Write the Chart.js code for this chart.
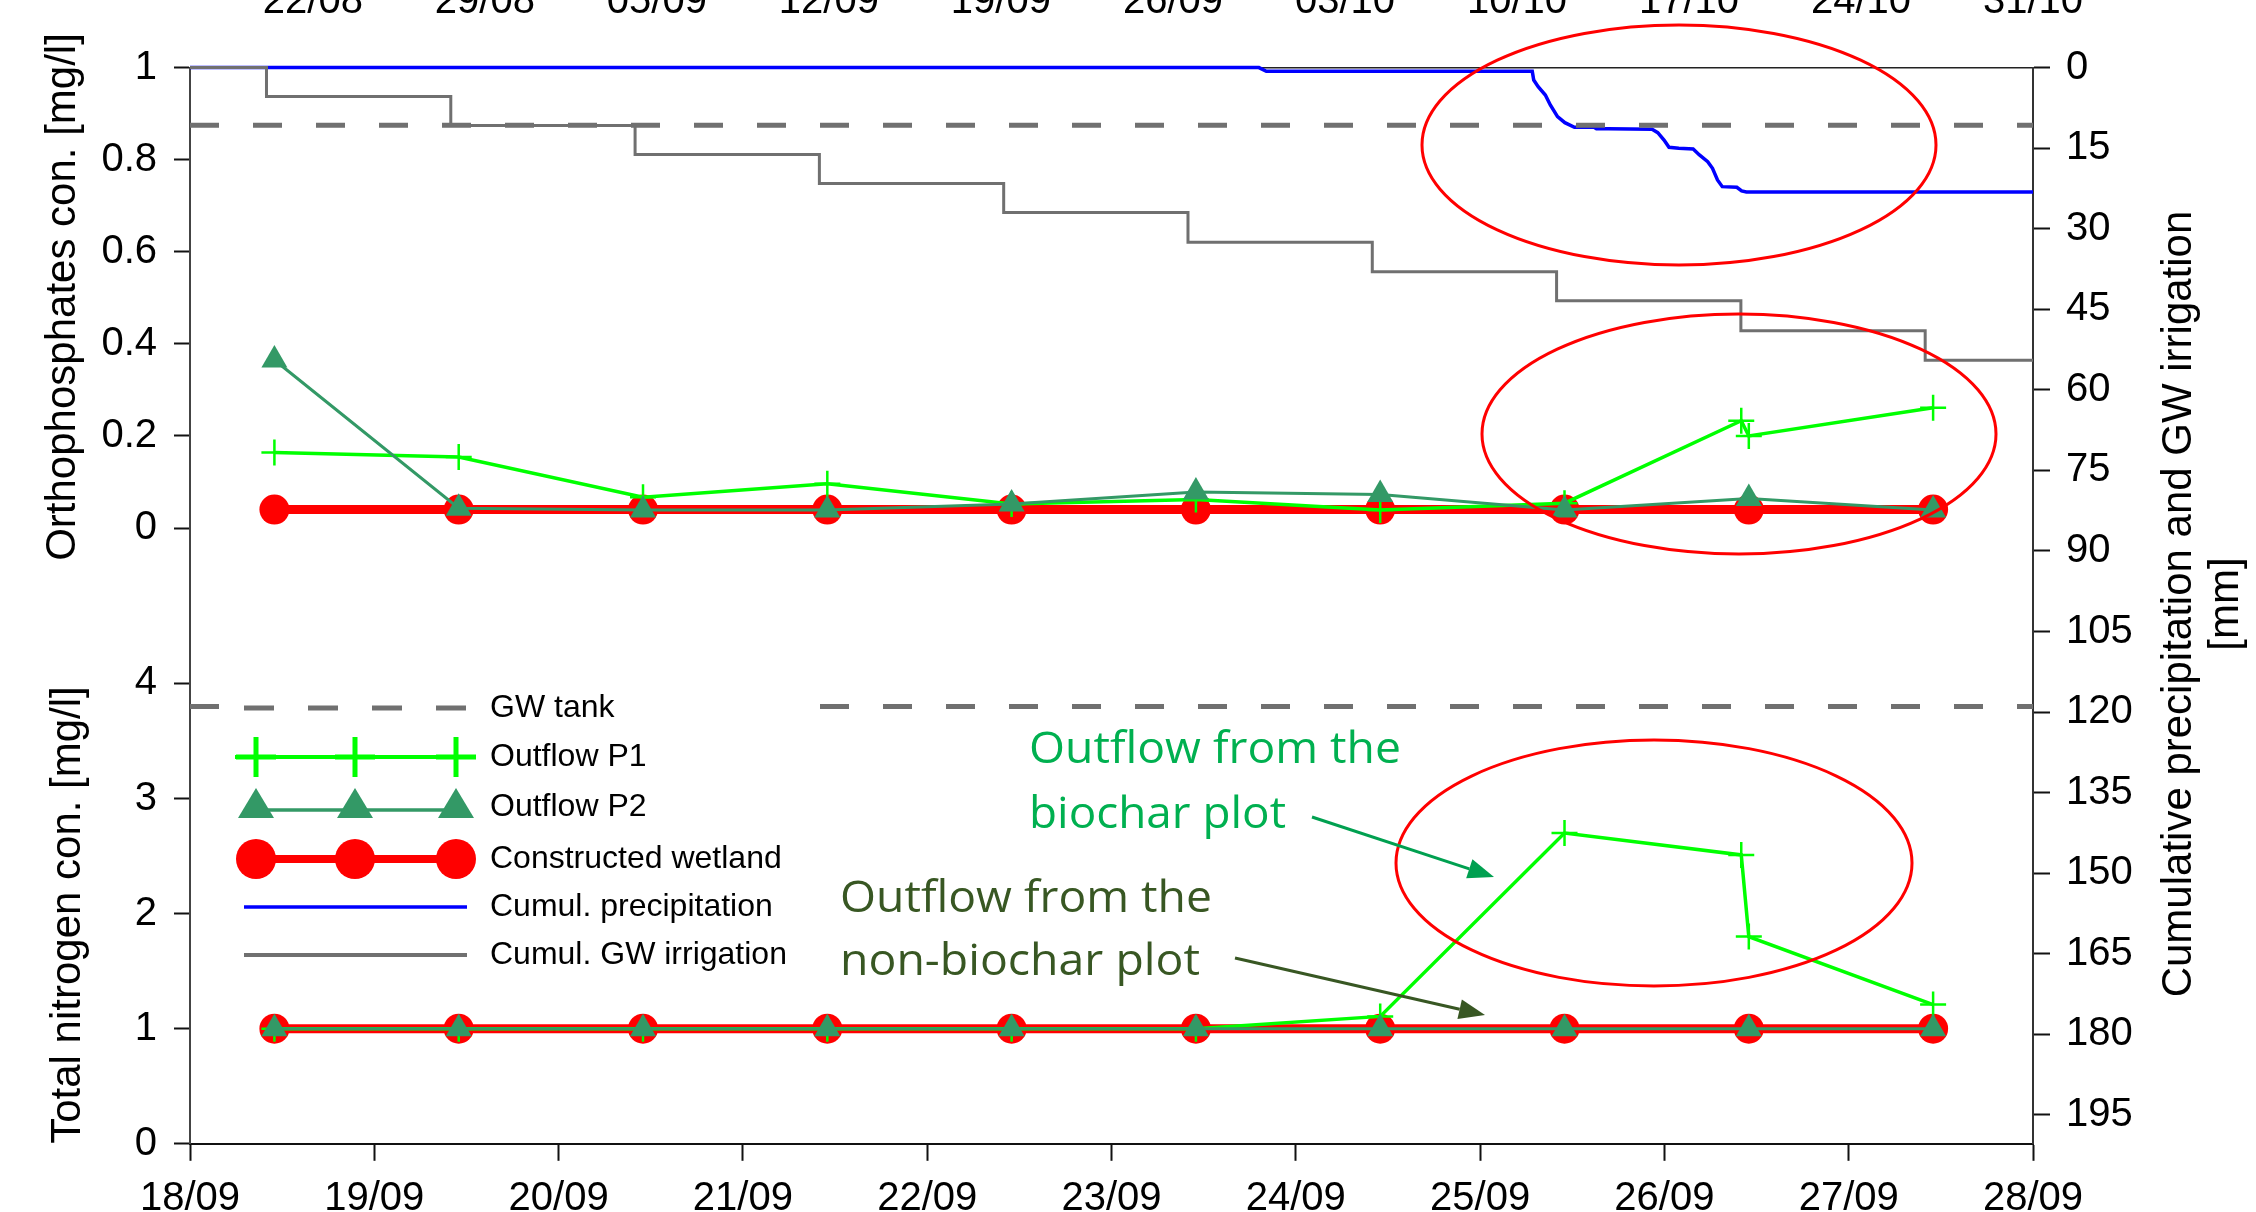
<!DOCTYPE html>
<html>
<head>
<meta charset="utf-8">
<script src="https://cdn.jsdelivr.net/npm/chart.js@4.4.0/dist/chart.umd.min.js"></script>
<style>
    html, body { margin: 0; padding: 0; background: #fff; overflow: hidden; }
    #marco { position: relative; width: 2256px; height: 1212px; overflow: hidden; background: #fff; }
    #grafica { position: absolute; left: 0; top: -44px; }
</style>
</head>
<body>
<div id="marco"><canvas id="grafica" width="2256" height="1300"></canvas></div>
<script>
//Dias desde el 18/09 a las 00:00
const diasMuestra = [0.458, 1.458, 2.458, 3.458, 4.458, 5.458, 6.458, 7.458, 8.458, 9.458];
const diasP1 = [0.458, 1.458, 2.458, 3.458, 4.458, 5.458, 6.458, 7.458, 8.417, 8.458, 9.458];

//Ortofosfatos [mg/l]
const fosfP1 = [0.164, 0.154, 0.067, 0.096, 0.052, 0.062, 0.039, 0.054, 0.233, 0.200, 0.261];
const fosfP2 = [0.365, 0.043, 0.039, 0.039, 0.052, 0.078, 0.073, 0.039, 0.064, 0.039];
const fosfHumedal = [0.04, 0.04, 0.04, 0.04, 0.04, 0.04, 0.04, 0.04, 0.04, 0.04];

//Nitrogeno total [mg/l]
const nitroP1 = [1.0, 1.0, 1.0, 1.0, 1.0, 1.0, 1.107, 2.70, 2.51, 1.80, 1.21];
const nitroP2 = [1.0, 1.0, 1.0, 1.0, 1.0, 1.0, 1.0, 1.0, 1.0, 1.0];
const nitroHumedal = [1.0, 1.0, 1.0, 1.0, 1.0, 1.0, 1.0, 1.0, 1.0, 1.0];

//Tanque GW
const tanqueFosf = 0.875;
const tanqueNitro = 3.8;

//Precipitacion acumulada [mm]
const diasLluvia = [0, 5.80, 5.84, 7.283, 7.291, 7.315, 7.354, 7.381, 7.420, 7.460, 7.512, 7.618, 7.631, 7.696, 7.933, 7.964, 7.998, 8.025, 8.078, 8.156, 8.190, 8.235, 8.261, 8.288, 8.314, 8.393, 8.419, 8.445, 10];
const lluviaAcum = [0, 0, 0.7, 0.7, 2.31, 3.55, 5.10, 6.96, 9.13, 10.25, 11.12, 11.12, 11.37, 11.37, 11.49, 12.11, 13.48, 14.84, 15.03, 15.16, 16.27, 17.52, 18.76, 20.93, 22.17, 22.29, 22.97, 23.16, 23.16];

//Riego GW acumulado [mm]
const diasRiego = [0, 0.415, 1.415, 2.415, 3.415, 4.415, 5.415, 6.415, 7.415, 8.415, 9.415, 10];
const riegoAcum = [0, 5.4, 10.8, 16.2, 21.6, 27.0, 32.5, 38.0, 43.4, 49.0, 54.5, 54.5];

//Etiquetas
const etiquetasDias = ['18/09', '19/09', '20/09', '21/09', '22/09', '23/09', '24/09', '25/09', '26/09', '27/09', '28/09'];
const etiquetasSemanas = ['22/08', '29/08', '05/09', '12/09', '19/09', '26/09', '03/10', '10/10', '17/10', '24/10', '31/10'];
const ticksFosf = [0, 0.2, 0.4, 0.6, 0.8, 1];
const ticksNitro = [0, 1, 2, 3, 4];
const ticksMm = [0, 15, 30, 45, 60, 75, 90, 105, 120, 135, 150, 165, 180, 195];

const OFF = 44;   //desplazamiento del canvas hacia arriba
const fuente = '"Liberation Sans", Arial, sans-serif';
const verdeP1 = '#00FF00';
const verdeP2 = '#339966';
const rojo = '#FF0000';
const gris = '#707070';
const azul = '#0000FF';

const fosfMin = -1.3375, fosfMax = 1;
const nitroMin = 0, nitroMax = 9.35;
const nitroAFosf = v => fosfMin + (v - nitroMin) * (fosfMax - fosfMin) / (nitroMax - nitroMin);
const etiquetasIzq = [...ticksFosf.map(v => String(v)), ...ticksNitro.map(v => String(v))];

const puntos = (xs, ys) => xs.map((x, i) => ({ x: x, y: ys[i] }));

//Las series
const datosP2 = (ys, eje) => ({
    label: 'Outflow P2', data: puntos(diasMuestra, ys), yAxisID: eje,
    borderColor: verdeP2, borderWidth: 3,
    pointStyle: 'triangle', pointRadius: 15, pointBackgroundColor: verdeP2, pointBorderWidth: 0
});
const datosP1 = (ys, eje) => ({
    label: 'Outflow P1', data: puntos(diasP1, ys), yAxisID: eje,
    borderColor: verdeP1, borderWidth: 3.5,
    pointStyle: 'cross', pointRadius: 13, pointBorderColor: verdeP1, pointBorderWidth: 2.5
});
const datosHumedal = (ys, eje) => ({
    label: 'Constructed wetland', data: puntos(diasMuestra, ys), yAxisID: eje,
    borderColor: rojo, borderWidth: 9,
    pointStyle: 'circle', pointRadius: 15, pointBackgroundColor: rojo, pointBorderWidth: 0
});
const datosTanque = (v, eje) => ({
    label: 'GW tank', data: [{ x: 0, y: v }, { x: 10, y: v }], yAxisID: eje,
    borderColor: gris, borderWidth: 5, borderDash: [29, 34], pointRadius: 0
});

const datasets = [
    datosP2(fosfP2, 'yP'), datosP2(nitroP2, 'yN'),
    datosP1(fosfP1, 'yP'), datosP1(nitroP1, 'yN'),
    datosHumedal(fosfHumedal, 'yP'), datosHumedal(nitroHumedal, 'yN'),
    datosTanque(tanqueFosf, 'yP'), datosTanque(tanqueNitro, 'yN'),
    {
        label: 'Cumul. GW irrigation', data: puntos(diasRiego, riegoAcum), yAxisID: 'y2',
        borderColor: gris, borderWidth: 3, stepped: 'before', pointRadius: 0
    },
    {
        label: 'Cumul. precipitation', data: puntos(diasLluvia, lluviaAcum), yAxisID: 'y2',
        borderColor: azul, borderWidth: 3.5, pointRadius: 0
    }
];
datasets.forEach(d => { d.fill = false; d.tension = 0; d.clip = false; });

//Leyenda, titulos y anotaciones (coordenadas de la imagen original)
const leyenda = [
    { texto: 'GW tank', tipo: 'tanque' },
    { texto: 'Outflow P1', tipo: 'p1' },
    { texto: 'Outflow P2', tipo: 'p2' },
    { texto: 'Constructed wetland', tipo: 'humedal' },
    { texto: 'Cumul. precipitation', tipo: 'lluvia' },
    { texto: 'Cumul. GW irrigation', tipo: 'riego' }
];
const filasLeyenda = [708, 757, 807, 859, 907, 955];
const marcasLeyenda = [256, 355, 456];

const elipses = [
    { x: 1679, y: 145, rx: 257, ry: 120 },
    { x: 1739, y: 434, rx: 257, ry: 120 },
    { x: 1654, y: 863, rx: 258, ry: 123 }
];
const notas = [
    { texto: 'Outflow from the', x: 1029, y: 763, ancho: 372, color: '#00B050' },
    { texto: 'biochar plot', x: 1029, y: 828, ancho: 257, color: '#00B050' },
    { texto: 'Outflow from the', x: 840, y: 912, ancho: 372, color: '#385723' },
    { texto: 'non-biochar plot', x: 840, y: 975, ancho: 360, color: '#385723' }
];
const flechas = [
    { x1: 1312, y1: 817, x2: 1494, y2: 877, color: '#00A050' },
    { x1: 1235, y1: 958, x2: 1485, y2: 1015, color: '#385723' }
];

function linea(ctx, x1, y1, x2, y2, color, ancho, guion) {
    ctx.save();
    ctx.strokeStyle = color;
    ctx.lineWidth = ancho;
    ctx.setLineDash(guion || []);
    ctx.beginPath();
    ctx.moveTo(x1, y1 + OFF);
    ctx.lineTo(x2, y2 + OFF);
    ctx.stroke();
    ctx.restore();
}

function marca(ctx, tipo, x, y) {
    y += OFF;
    ctx.save();
    if (tipo === 'p1') {
        ctx.strokeStyle = verdeP1; ctx.lineWidth = 5;
        ctx.beginPath();
        ctx.moveTo(x - 20, y); ctx.lineTo(x + 20, y);
        ctx.moveTo(x, y - 20); ctx.lineTo(x, y + 20);
        ctx.stroke();
    } else if (tipo === 'p2') {
        ctx.fillStyle = verdeP2;
        ctx.beginPath();
        ctx.moveTo(x, y - 19); ctx.lineTo(x + 18, y + 11); ctx.lineTo(x - 18, y + 11);
        ctx.closePath(); ctx.fill();
    } else {
        ctx.fillStyle = rojo;
        ctx.beginPath(); ctx.arc(x, y, 20, 0, Math.PI * 2); ctx.fill();
    }
    ctx.restore();
}

function textoAjustado(ctx, texto, x, y, ancho) {
    const w = ctx.measureText(texto).width;
    ctx.save();
    ctx.translate(x, y + OFF);
    ctx.scale(ancho / w, 1);
    ctx.fillText(texto, 0, 0);
    ctx.restore();
}

function textoVertical(ctx, texto, x, y) {
    ctx.save();
    ctx.translate(x, y + OFF);
    ctx.rotate(-Math.PI / 2);
    ctx.textAlign = 'center';
    ctx.textBaseline = 'alphabetic';
    ctx.fillText(texto, 0, 0);
    ctx.restore();
}

const decoraciones = {
    id: 'decoraciones',
    afterDraw(chart) {
        const ctx = chart.ctx;
        ctx.save();

        //Leyenda
        ctx.fillStyle = '#fff';
        ctx.fillRect(220, 683 + OFF, 582, 302);
        leyenda.forEach((e, i) => {
            const y = filasLeyenda[i];
            if (e.tipo === 'tanque') linea(ctx, 244, y, 467, y, gris, 5, [30, 34]);
            if (e.tipo === 'p1') linea(ctx, 235, y, 476, y, verdeP1, 4);
            if (e.tipo === 'p2') linea(ctx, 256, y + 3, 456, y + 3, verdeP2, 3.5);
            if (e.tipo === 'humedal') linea(ctx, 256, y, 456, y, rojo, 8);
            if (e.tipo === 'lluvia') linea(ctx, 244, y, 467, y, azul, 3.5);
            if (e.tipo === 'riego') linea(ctx, 244, y, 467, y, gris, 4);
            if (['p1', 'p2', 'humedal'].includes(e.tipo)) {
                marcasLeyenda.forEach(x => marca(ctx, e.tipo, x, y));
            }
            ctx.fillStyle = '#000';
            ctx.font = '32px ' + fuente;
            ctx.textAlign = 'left';
            ctx.textBaseline = 'middle';
            ctx.fillText(e.texto, 490, y + OFF);
        });

        //Titulos de los ejes
        ctx.fillStyle = '#000';
        ctx.font = '42px ' + fuente;
        textoVertical(ctx, 'Orthophosphates con. [mg/l]', 75, 297);
        textoVertical(ctx, 'Total nitrogen con. [mg/l]', 80, 915);
        textoVertical(ctx, 'Cumulative precipitation and GW irrigation', 2191, 604);
        textoVertical(ctx, '[mm]', 2238, 604);

        //Elipses rojas
        ctx.strokeStyle = rojo;
        ctx.lineWidth = 3;
        elipses.forEach(e => {
            ctx.beginPath();
            ctx.ellipse(e.x, e.y + OFF, e.rx, e.ry, 0, 0, Math.PI * 2);
            ctx.stroke();
        });

        //Textos de las anotaciones
        ctx.font = '44px "Open Sans", "Noto Sans", sans-serif';
        ctx.textAlign = 'left';
        ctx.textBaseline = 'alphabetic';
        notas.forEach(n => {
            ctx.fillStyle = n.color;
            textoAjustado(ctx, n.texto, n.x, n.y, n.ancho);
        });

        //Flechas
        flechas.forEach(f => {
            const ang = Math.atan2(f.y2 - f.y1, f.x2 - f.x1);
            const largo = 26, medio = 10;
            const bx = f.x2 - largo * Math.cos(ang), by = f.y2 - largo * Math.sin(ang);
            linea(ctx, f.x1, f.y1, bx, by, f.color, 3);
            ctx.fillStyle = f.color;
            ctx.beginPath();
            ctx.moveTo(f.x2, f.y2 + OFF);
            ctx.lineTo(bx + medio * Math.sin(ang), by - medio * Math.cos(ang) + OFF);
            ctx.lineTo(bx - medio * Math.sin(ang), by + medio * Math.cos(ang) + OFF);
            ctx.closePath();
            ctx.fill();
        });

        ctx.restore();
    }
};

const fuenteTicks = { family: fuente, size: 40 };
const canvas = document.getElementById('grafica');
const altoCanvas = canvas.height;

const chart = new Chart(canvas.getContext('2d'), {
    type: 'line',
    data: { datasets: datasets },
    plugins: [decoraciones],
    options: {
        responsive: false,
        animation: false,
        events: [],
        layout: { padding: 0 },
        plugins: {
            legend: { display: false },
            tooltip: { enabled: false }
        },
        scales: {
            x: {
                type: 'linear', position: 'bottom', min: 0, max: 10,
                afterBuildTicks: s => { s.ticks = etiquetasDias.map((t, i) => ({ value: i })); },
                afterFit: s => { s.height = altoCanvas - (1143.8 + OFF); },
                ticks: { callback: (v, i) => etiquetasDias[i], font: fuenteTicks, color: '#000', padding: 14, maxRotation: 0, autoSkip: false },
                grid: { drawOnChartArea: false, drawTicks: true, tickLength: 17, tickColor: '#111', tickWidth: 2 },
                border: { display: true, color: '#111', width: 2 }
            },
            x2: {
                type: 'linear', position: 'top', min: 0, max: 75,
                afterBuildTicks: s => { s.ticks = etiquetasSemanas.map((t, i) => ({ value: 5 + 7 * i })); },
                afterFit: s => { s.height = 67.6 + OFF; },
                ticks: { callback: (v, i) => etiquetasSemanas[i], font: fuenteTicks, color: '#000', padding: 42, maxRotation: 0, autoSkip: false },
                grid: { display: false, drawTicks: false },
                border: { display: true, color: '#222', width: 1.5 }
            },
            yP: {
                type: 'linear', position: 'left', min: fosfMin, max: fosfMax,
                afterBuildTicks: s => {
                    s.ticks = [...ticksFosf.map(v => ({ value: v })), ...ticksNitro.map(v => ({ value: nitroAFosf(v) }))];
                },
                afterFit: s => { s.width = 190; },
                ticks: { callback: (v, i) => etiquetasIzq[i], font: fuenteTicks, color: '#000', padding: 17, autoSkip: false },
                grid: { drawOnChartArea: false, drawTicks: true, tickLength: 16, tickColor: '#111', tickWidth: 2 },
                border: { display: true, color: '#444', width: 2 }
            },
            yN: {
                type: 'linear', display: false, min: nitroMin, max: nitroMax
            },
            y2: {
                type: 'linear', position: 'right', reverse: true, min: 0, max: 200.4,
                afterBuildTicks: s => { s.ticks = ticksMm.map(v => ({ value: v })); },
                afterFit: s => { s.width = 2256 - 2033; },
                ticks: { callback: v => String(v), font: fuenteTicks, color: '#000', padding: 16, autoSkip: false },
                grid: { drawOnChartArea: false, drawTicks: true, tickLength: 17, tickColor: '#111', tickWidth: 2 },
                border: { display: true, color: '#333', width: 2 }
            }
        }
    }
});
</script>
</body>
</html>
